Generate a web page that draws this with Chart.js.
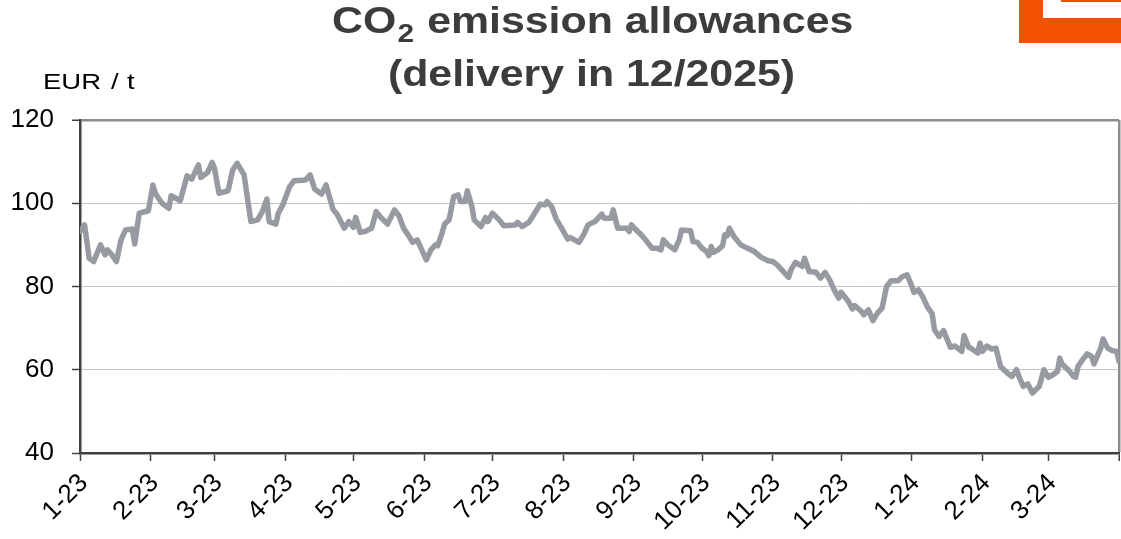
<!DOCTYPE html>
<html>
<head>
<meta charset="utf-8">
<script src="https://cdn.jsdelivr.net/npm/chart.js@4"></script>
<style>
  html,body{margin:0;padding:0;background:#fff;}
  #wrap{width:1121px;height:539px;position:relative;}
</style>
</head>
<body>
<div id="wrap"><canvas id="co2Chart"></canvas></div>
<script>
// days counted from 1 Jan 2023, prices in EUR/t
const days = [0,2,4,6,9,11,12,14,16,18,20,23,24,26,30,32,33,36,39,40,44,47,49,52,53,56,58,59,61,65,67,69,72,75,78,80,82,83,86,87,89,92,94,99,101,103,106,108,109,111,113,116,118,120,121,123,125,128,130,132,135,138,140,142,144,146,148,149,152,154,156,157,159,160,162,164,166,167,169,170,172,173,176,178,179,181,184,186,191,192,194,197,200,202,204,205,207,209,211,214,215,219,221,223,226,227,229,230,233,234,236,240,241,242,244,246,248,251,253,255,256,258,261,263,264,268,269,271,273,275,276,277,278,280,282,283,284,285,287,290,293,296,299,302,304,306,309,311,312,314,317,318,320,323,325,327,329,331,333,334,337,339,340,343,344,346,348,350,352,354,356,359,361,363,365,366,368,370,372,374,375,377,379,382,384,387,388,390,391,394,395,396,398,400,402,404,407,409,411,412,414,416,418,421,423,425,427,429,430,431,434,436,437,438,440,442,444,445,448,449,451,453,455,456];
const prices = [93.2,94.8,86.8,86.0,90.0,87.6,88.8,87.6,86.0,91.2,93.6,93.8,90.2,97.6,98.2,104.4,102.4,100.0,98.8,101.8,100.6,106.6,105.8,109.2,106.2,107.4,109.8,108.4,102.4,103.0,108.0,109.6,106.8,95.6,96.0,98.0,101.0,95.6,95.0,97.6,99.6,104.0,105.4,105.6,106.8,103.4,102.2,104.4,102.4,98.6,97.2,94.0,95.6,94.2,96.6,93.0,93.2,94.0,98.0,96.6,95.0,98.4,97.0,94.0,92.4,90.6,91.2,90.0,86.4,88.8,90.0,89.8,93.0,95.0,96.0,101.6,102.0,100.4,100.4,103.0,99.2,96.0,94.4,96.6,95.6,97.6,96.0,94.6,94.8,95.4,94.4,95.4,98.0,99.8,99.6,100.4,99.2,96.2,94.4,91.4,91.8,90.6,92.4,94.8,95.6,96.2,97.4,96.4,96.4,98.4,94.0,94.0,93.2,94.8,93.6,92.6,91.4,89.2,89.2,88.8,91.2,90.0,88.8,91.2,93.6,93.4,90.8,90.6,89.2,88.4,87.4,89.6,88.2,88.8,89.8,92.4,92.2,94.0,92.0,90.0,89.2,88.4,87.0,86.2,86.0,85.2,83.4,82.2,84.0,85.8,84.8,86.8,83.6,83.4,82.0,83.4,81.6,79.2,77.2,78.6,76.6,74.6,75.4,74.0,73.2,74.4,71.8,73.6,74.8,80.0,81.4,81.4,82.4,82.8,80.2,78.6,79.2,77.4,75.0,73.5,69.6,68.0,69.4,65.4,65.7,64.4,68.2,65.4,65.2,64.0,66.4,64.4,65.7,65.0,65.2,60.8,59.2,58.4,60.0,58.5,56.0,56.6,54.4,56.0,60.0,58.2,58.8,59.6,62.8,61.4,59.8,58.4,58.2,60.8,62.4,63.8,63.2,61.4,65.2,67.4,65.2,64.6,64.4,62.0];

const monthStartDays = [0,31,59,90,120,151,181,212,243,273,304,334,365,396,425];
const monthLabels = ['1-23','2-23','3-23','4-23','5-23','6-23','7-23','8-23','9-23','10-23','11-23','12-23','1-24','2-24','3-24'];
const endDay = 456;

const yTicks = [40,60,80,100,120];
const titleLine1 = ['CO','2',' emission allowances'];
const titleLine2 = '(delivery in 12/2025)';
const unitLabel = ['EUR','/','t'];

const FONT = '"Liberation Sans", Arial, sans-serif';

// title, unit label and the corner logo
const decorPlugin = {
  id:'decor',
  afterDraw(chart){
    const ctx = chart.ctx;
    ctx.save();
    // logo corner
    ctx.fillStyle = '#f25200';
    ctx.fillRect(1019,0,102,43);
    ctx.fillStyle = '#ffffff';
    ctx.fillRect(1043,0,78,18);
    ctx.fillStyle = '#f25200';
    ctx.fillRect(1061,0,60,2);

    // title
    const cx = 591.5, sx = 1.19;
    ctx.fillStyle = '#3c3c3c';
    ctx.textBaseline = 'alphabetic';
    ctx.textAlign = 'left';
    const big = 'bold 36px ' + FONT, small = 'bold 25px ' + FONT;
    ctx.font = big; const w1 = ctx.measureText(titleLine1[0]).width;
    ctx.font = small; const w2 = ctx.measureText(titleLine1[1]).width;
    ctx.font = big; const w3 = ctx.measureText(titleLine1[2]).width;
    ctx.save();
    ctx.translate(cx,0); ctx.scale(sx,1);
    let x = -(w1+w2+w3)/2;
    ctx.font = big; ctx.fillText(titleLine1[0], x, 33); x += w1;
    ctx.font = small; ctx.fillText(titleLine1[1], x+1, 42); x += w2 + 2;
    ctx.font = big; ctx.fillText(titleLine1[2], x, 33);
    ctx.textAlign = 'center';
    ctx.fillText(titleLine2, 0, 86);
    ctx.restore();

    // unit label (stretched like the original)
    ctx.font = '22px ' + FONT;
    ctx.fillStyle = '#000';
    [[unitLabel[0],43],[unitLabel[1],111],[unitLabel[2],127]].forEach(([t,px])=>{
      ctx.save(); ctx.translate(px,89); ctx.scale(1.25,1); ctx.fillText(t,0,0); ctx.restore();
    });
    ctx.restore();
  }
};

new Chart(document.getElementById('co2Chart'),{
  type:'line',
  data:{
    datasets:[{
      data: days.map((d,i)=>({x:d,y:prices[i]})),
      borderColor:'#979ba1',
      borderWidth:5.5,
      pointRadius:0,
      tension:0,
      borderJoinStyle:'round',
      borderCapStyle:'round',
      fill:false
    }]
  },
  options:{
    responsive:true,
    maintainAspectRatio:false,
    devicePixelRatio:1,
    animation:false,
    layout:{padding:{top:120,right:2,left:0,bottom:0}},
    plugins:{legend:{display:false},tooltip:{enabled:false},title:{display:false}},
    scales:{
      x:{
        type:'linear',
        min:0,max:endDay,
        afterBuildTicks:s=>{ s.ticks = monthStartDays.concat([endDay]).map(v=>({value:v})); },
        afterFit:s=>{ s.height = 86; s.paddingRight = 0; s.paddingLeft = 0; },
        ticks:{
          autoSkip:false,
          minRotation:45,maxRotation:45,
          padding:7,
          labelOffset:4,
          color:'#000',
          font:{family:FONT,size:26},
          callback:v=>{ const i = monthStartDays.indexOf(v); return i>=0 ? monthLabels[i] : ''; }
        },
        grid:{
          drawOnChartArea:true,
          color:c=> (c.tick && c.tick.value===endDay) ? '#8c8c8c' : 'rgba(0,0,0,0)',
          lineWidth:c=> (c.tick && c.tick.value===endDay) ? 2.5 : 1,
          tickColor:'#404040',
          tickWidth:1.5,
          tickLength:8
        },
        border:{color:'#404040',width:2.5}
      },
      y:{
        min:40,max:120,
        afterBuildTicks:s=>{ s.ticks = yTicks.map(v=>({value:v})); },
        afterFit:s=>{ s.width = 80; },
        ticks:{
          padding:18,
          color:'#000',
          font:{family:FONT,size:26}
        },
        grid:{
          color:c=> c.tick.value===120 ? '#8c8c8c' : (c.tick.value===40 ? 'rgba(0,0,0,0)' : '#c4c4c4'),
          lineWidth:c=> c.tick.value===120 ? 2.5 : 1,
          tickColor:'#404040',
          tickWidth:1.5,
          tickLength:8
        },
        border:{color:'#404040',width:2.5}
      }
    }
  },
  plugins:[decorPlugin]
});
</script>
</body>
</html>
